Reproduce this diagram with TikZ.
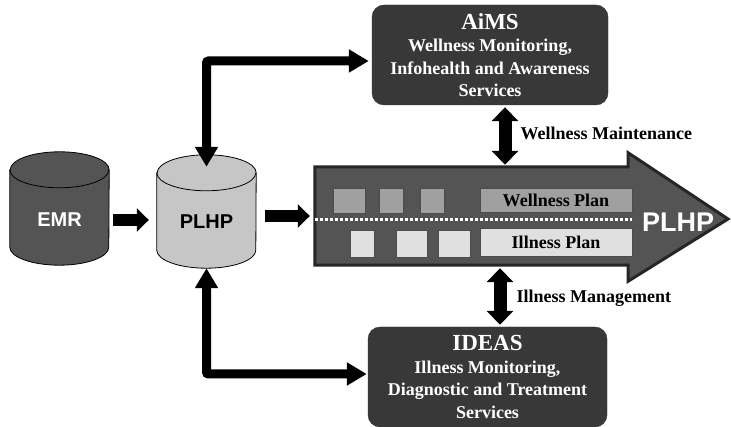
\documentclass[tikz,border=0pt]{standalone}
\usepackage{fontspec}
\setmainfont{Liberation Serif}
\setsansfont{Liberation Sans}
\usepackage{tikz}
\usetikzlibrary{positioning, arrows.meta}
\definecolor{oscuro}{RGB}{56, 56, 56}
\definecolor{gris}{RGB}{84, 84, 84}
\definecolor{medio}{RGB}{160, 160, 160}
\definecolor{claro}{RGB}{198, 198, 198}
\definecolor{palido}{RGB}{224, 224, 224}
\tikzset{
    db/.style={inner sep=0pt, minimum width=99pt, minimum height=113pt},
    dbtxt/.style={font=\sffamily\bfseries\fontsize{20}{22}\selectfont},
    srv/.style={draw=black!80, fill=oscuro, rounded corners=12pt, text=white, align=center, font=\bfseries\fontsize{18}{22.5}\selectfont, inner sep=0pt, minimum height=100pt},
    blk/.style={draw=black!70, fill=medio, inner sep=0pt, minimum width=24pt, minimum height=25pt},
    blkLow/.style={draw=black!70, fill=palido, inner sep=0pt, minimum width=24pt, minimum height=27pt},
    plan/.style={draw=black!70, inner sep=0pt, minimum width=152pt, font=\bfseries\fontsize{18}{20}\selectfont},
    fat/.style={line width=12pt, -{Triangle[length=12pt, width=23pt]}},
    dbl/.style={line width=13pt, {Triangle[length=14pt, width=26pt]}-{Triangle[length=14pt, width=26pt]}},
    elbow/.style={line width=9pt, rounded corners=2pt, {Triangle[length=20pt, width=22pt]}-{Triangle[length=20pt, width=22pt]}},
    lbl/.style={anchor=west, font=\bfseries\fontsize{18}{20}\selectfont},
}
\begin{document}
\begin{tikzpicture}[x=1pt, y=-1pt]
    \useasboundingbox (0,0) rectangle (731,427);

    \node [db] (emr) at (59.5,208.5) {};
    \node [db] (plhp) at (206.5,211.5) {};
    \foreach \c/\f in {emr/gris, plhp/claro} {
        \draw [thick, fill=\f] ([yshift=-18pt]\c.north west) -- ([yshift=18pt]\c.south west)
            arc [start angle=180, end angle=360, x radius=49.5pt, y radius=18pt]
            -- ([yshift=-18pt]\c.north east)
            arc [start angle=0, end angle=180, x radius=49.5pt, y radius=18pt] -- cycle;
        \draw [thick] ([yshift=-18pt]\c.north west)
            arc [start angle=180, end angle=360, x radius=49.5pt, y radius=18pt];
    }
    \node [dbtxt, text=white] (emrtxt) at ([yshift=-11.5pt]emr.center) {EMR};
    \node [dbtxt] (plhptxt) at ([yshift=-10.5pt]plhp.center) {PLHP};

    \node [minimum width=313pt, minimum height=98pt, inner sep=0pt] (shaft) at (471.5,216) {};
    \coordinate (tip) at (728,219);
    \draw [draw=black!85, line width=3pt, fill=gris, line join=miter]
        (shaft.north west) -- (shaft.north east) -- ([yshift=14pt]shaft.north east)
        -- (tip) -- ([yshift=-16pt]shaft.south east) -- (shaft.south east)
        -- (shaft.south west) -- cycle;
    \node [dbtxt, text=white, font=\sffamily\bfseries\fontsize{27}{30}\selectfont] (out) at (678,222) {PLHP};

    \node [blk, minimum width=32pt] (w1) at (349,200.5) {};
    \node [blk] (w2) at (391,200.5) {};
    \node [blk] (w3) at (432,200.5) {};
    \node [plan, fill=medio, minimum height=24pt] (wplan) at (556,200) {Wellness Plan};
    \node [blkLow] (i1) at (362,243.5) {};
    \node [blkLow, minimum width=31pt] (i2) at (411.5,243.5) {};
    \node [blkLow, minimum width=32pt] (i3) at (454,243.5) {};
    \node [plan, fill=palido, minimum height=28pt] (iplan) at (556,242) {Illness Plan};
    \draw [white, line width=3pt, dash pattern=on 3pt off 2pt]
        ([yshift=-4pt]shaft.west) -- ([yshift=-4pt]shaft.west -| iplan.east);

    \node [srv, minimum width=236pt] (aims) at (490,55)
        {{\fontsize{23}{26}\selectfont AiMS}\\Wellness Monitoring,\\Infohealth and Awareness\\Services};
    \node [srv, minimum width=239pt] (ideas) at (487.5,377)
        {{\fontsize{23}{26}\selectfont IDEAS}\\Illness Monitoring,\\Diagnostic and Treatment\\Services};

    \draw [fat] ([xshift=4pt, yshift=-11.5pt]emr.east) -- ([xshift=-8pt, yshift=-8.5pt]plhp.west);
    \draw [fat] ([xshift=9pt, yshift=-4.5pt]plhp.east) -- ([xshift=-5pt]shaft.west);

    \draw [elbow] ([yshift=-12pt]plhp.north) |- ([xshift=-3pt, yshift=-6pt]aims.west);
    \draw [elbow] (plhp.south) |- ([xshift=-1pt, yshift=3pt]ideas.west);

    \coordinate (wm) at ([xshift=15pt]aims.south);
    \coordinate (im) at ([xshift=12.5pt]ideas.north);
    \draw [dbl, shorten <=2pt, shorten >=2pt] (wm) -- (wm |- shaft.north);
    \draw [dbl, shorten <=3pt, shorten >=2pt] (im |- shaft.south) -- (im);
    \node [lbl] (wmlbl) at (517,133) {Wellness Maintenance};
    \node [lbl] (imlbl) at (513,298) {Illness Management};
\end{tikzpicture}
\end{document}
